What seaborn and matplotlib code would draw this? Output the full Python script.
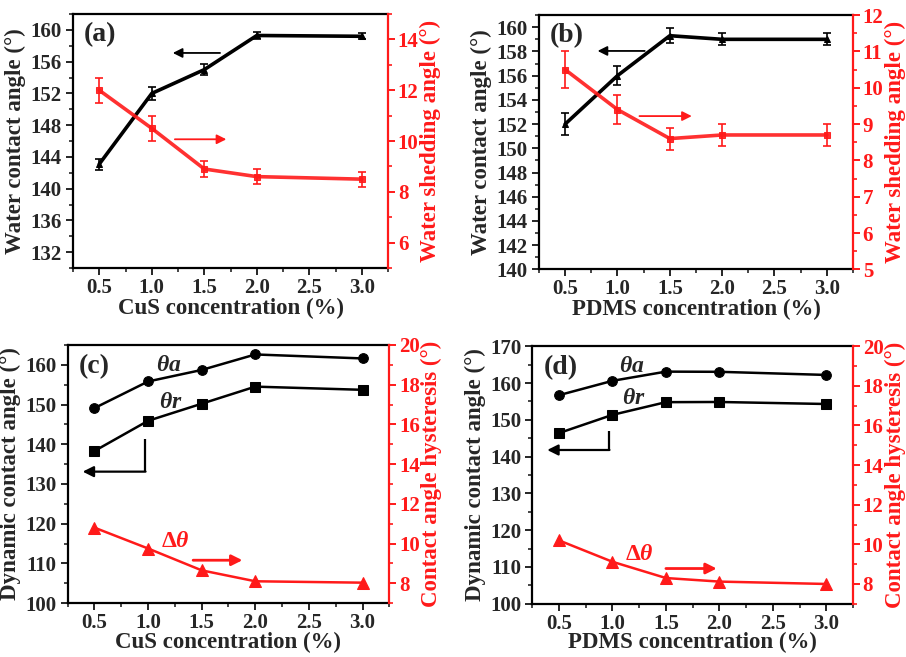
import numpy as np
import pandas as pd
import matplotlib
matplotlib.use("Agg")
import matplotlib.pyplot as plt
import seaborn as sns
from matplotlib.ticker import MultipleLocator

# ---------------- data ----------------
conc = [0.5, 1.0, 1.5, 2.0, 3.0]
xticks = [0.5, 1.0, 1.5, 2.0, 2.5, 3.0]

wca_cus = [143.1, 152.0, 155.0, 159.3, 159.2]
wca_cus_err = [0.7, 0.8, 0.7, 0.5, 0.4]
wsa_cus = [12.0, 10.5, 8.9, 8.6, 8.5]
wsa_cus_err = [0.5, 0.5, 0.3, 0.3, 0.3]

wca_pdms = [152.0, 156.0, 159.3, 159.0, 159.0]
wca_pdms_err = [0.9, 0.8, 0.6, 0.5, 0.5]
wsa_pdms = [10.5, 9.4, 8.6, 8.7, 8.7]
wsa_pdms_err = [0.5, 0.4, 0.3, 0.3, 0.3]

theta_a_cus = [149.1, 155.8, 158.7, 162.6, 161.6]
theta_r_cus = [138.3, 145.9, 150.2, 154.5, 153.7]
hyst_cus = [10.8, 9.75, 8.65, 8.1, 8.03]

theta_a_pdms = [156.7, 160.6, 163.1, 163.05, 162.2]
theta_r_pdms = [146.4, 151.35, 154.8, 154.85, 154.3]
hyst_pdms = [10.2, 9.12, 8.3, 8.12, 8.0]

# ---------------- style ----------------
sns.set_style("ticks")
plt.rcParams['font.family'] = ['Liberation Serif', 'DejaVu Serif']
plt.rcParams['font.weight'] = 'bold'
plt.rcParams['axes.labelweight'] = 'bold'
plt.rcParams['mathtext.fontset'] = 'custom'
plt.rcParams['mathtext.it'] = 'Liberation Serif:italic:bold'
plt.rcParams['mathtext.rm'] = 'Liberation Serif:bold'

RED = '#ff1a1a'
TICK_FS = 15
LAB_FS = 16.5

fig = plt.figure(figsize=(9.06, 6.57), dpi=100)

def style_axes(ax, ax2):
    for s in ['left', 'bottom', 'top']:
        ax.spines[s].set_linewidth(1.6)
        ax.spines[s].set_color('black')
    ax.spines['right'].set_visible(False)
    ax2.spines['right'].set_color(RED)
    ax2.spines['right'].set_linewidth(1.6)
    for s in ['left', 'bottom', 'top']:
        ax2.spines[s].set_visible(False)
    ax.tick_params(axis='both', which='major', direction='out', length=5, width=1.4,
                   labelsize=TICK_FS, top=False, right=False, pad=3)
    ax.tick_params(axis='x', which='major', pad=2)
    ax.tick_params(axis='both', which='minor', direction='out', length=3, width=1.2,
                   top=False, right=False)
    ax2.tick_params(axis='y', which='major', direction='out', length=5, width=1.4,
                    colors=RED, labelsize=TICK_FS, pad=2)
    ax2.tick_params(axis='y', which='minor', direction='out', length=3, width=1.2, colors=RED)
    ax.set_xlim(0.25, 3.25)
    ax.set_xticks(xticks)
    ax.set_xticklabels([f"{v:.1f}" for v in xticks])
    ax.xaxis.set_minor_locator(MultipleLocator(0.25))
    for lab in ax.get_xticklabels() + ax.get_yticklabels() + ax2.get_yticklabels():
        lab.set_fontweight('bold')

def draw_top(rect, x, wca, wca_err, wsa, wsa_err, xlabel, ylim, yticks, yminor,
             y2lim, y2ticks, y2minor, tag, barrow, rarrow):
    ax = fig.add_axes(rect)
    ax2 = ax.twinx()
    df = pd.DataFrame({'x': x, 'wca': wca, 'wsa': wsa})
    ax.errorbar(x, wca, yerr=wca_err, fmt='none', ecolor='black', elinewidth=1.2,
                capsize=3, capthick=1.2, zorder=3)
    sns.lineplot(data=df, x='x', y='wca', ax=ax, color='black', lw=2.6,
                 marker='^', markersize=5, markeredgecolor='black', zorder=4)
    ax2.errorbar(x, wsa, yerr=wsa_err, fmt='none', ecolor=RED, elinewidth=1.2,
                 capsize=3, capthick=1.2, zorder=3)
    sns.lineplot(data=df, x='x', y='wsa', ax=ax2, color=RED, lw=2.6, alpha=0.9,
                 marker='s', markersize=5, markeredgecolor=RED, zorder=4)
    ax.set_ylim(*ylim)
    ax.set_yticks(yticks)
    ax.yaxis.set_minor_locator(MultipleLocator(yminor))
    ax2.set_ylim(*y2lim)
    ax2.set_yticks(y2ticks)
    ax2.yaxis.set_minor_locator(MultipleLocator(y2minor))
    ax.set_xlabel(xlabel, fontsize=LAB_FS, fontweight='bold', labelpad=0)
    ax.set_ylabel('Water contact angle (°)', fontsize=LAB_FS, fontweight='bold', labelpad=3)
    ax2.set_ylabel('Water shedding angle (°)', fontsize=LAB_FS, fontweight='bold',
                   color=RED, labelpad=1)
    style_axes(ax, ax2)
    ax.text(0.035, 0.97, tag, transform=ax.transAxes, fontsize=20, fontweight='bold',
            va='top', ha='left')
    ax.annotate('', xy=(barrow[1], barrow[2]), xytext=(barrow[0], barrow[2]),
                xycoords='data',
                arrowprops=dict(arrowstyle='-|>', color='black', lw=1.3,
                                mutation_scale=14, shrinkA=0, shrinkB=0))
    ax2.annotate('', xy=(rarrow[1], rarrow[2]), xytext=(rarrow[0], rarrow[2]),
                 arrowprops=dict(arrowstyle='-|>', color=RED, lw=1.3,
                                 mutation_scale=14, shrinkA=0, shrinkB=0))
    return ax, ax2

def draw_bottom(rect, x, ta, tr, hy, xlabel, ylim, yticks, tag, elbow, rarrow,
                la, lr, ld):
    ax = fig.add_axes(rect)
    ax2 = ax.twinx()
    df = pd.DataFrame({'x': x, 'ta': ta, 'tr': tr, 'hy': hy})
    sns.lineplot(data=df, x='x', y='ta', ax=ax, color='black', lw=1.8,
                 marker='o', markersize=7, markeredgecolor='black')
    sns.lineplot(data=df, x='x', y='tr', ax=ax, color='black', lw=1.8,
                 marker='s', markersize=6.5, markeredgecolor='black')
    sns.lineplot(data=df, x='x', y='hy', ax=ax2, color=RED, lw=1.8,
                 marker='^', markersize=8, markeredgecolor=RED)
    ax.set_ylim(*ylim)
    ax.set_yticks(yticks)
    ax.yaxis.set_minor_locator(MultipleLocator(5))
    ax2.set_ylim(7, 20)
    ax2.set_yticks([8, 10, 12, 14, 16, 18, 20])
    ax2.yaxis.set_minor_locator(MultipleLocator(1))
    ax.set_xlabel(xlabel, fontsize=LAB_FS, fontweight='bold', labelpad=-1)
    ax.set_ylabel('Dynamic contact angle (°)', fontsize=LAB_FS, fontweight='bold', labelpad=3)
    ax2.set_ylabel('Contact angle hysteresis (°)', fontsize=LAB_FS, fontweight='bold',
                   color=RED, labelpad=1)
    style_axes(ax, ax2)
    ax.text(0.035, 0.965, tag, transform=ax.transAxes, fontsize=20, fontweight='bold',
            va='top', ha='left')
    # elbow arrow
    ex, ey0, ey1, ex1 = elbow
    ax.plot([ex, ex], [ey0, ey1], color='black', lw=1.6, solid_capstyle='butt')
    ax.annotate('', xy=(ex1, ey1), xytext=(ex + 0.006, ey1),
                arrowprops=dict(arrowstyle='-|>', color='black', lw=1.6,
                                mutation_scale=16, shrinkA=0, shrinkB=0))
    ax2.annotate('', xy=(rarrow[1], rarrow[2]), xytext=(rarrow[0], rarrow[2]),
                 arrowprops=dict(arrowstyle='-|>', color=RED, lw=2.0,
                                 mutation_scale=16, shrinkA=0, shrinkB=0))
    ax.text(la[0], la[1], r'$\theta a$', fontsize=17, ha='center', va='center')
    ax.text(lr[0], lr[1], r'$\theta r$', fontsize=17, ha='center', va='center')
    ax.text(ld[0], ld[1], r'$\mathit{\Delta\theta}$', fontsize=17, ha='center', va='center',
            color=RED)
    return ax, ax2

draw_top([0.0806, 0.592, 0.3477, 0.3866], conc, wca_cus, wca_cus_err, wsa_cus, wsa_cus_err,
         'CuS concentration (%)', (130, 162), [132, 136, 140, 144, 148, 152, 156, 160], 2,
         (5, 15), [6, 8, 10, 12, 14], 1, '(a)',
         (1.65, 1.2, 157.1), (1.22, 1.71, 10.07))

draw_top([0.5949, 0.590, 0.3466, 0.387], conc, wca_pdms, wca_pdms_err, wsa_pdms, wsa_pdms_err,
         'PDMS concentration (%)', (140, 161), list(range(140, 161, 2)), 1,
         (5, 12), list(range(5, 13)), 0.5, '(b)',
         (1.26, 0.81, 158.04), (1.21, 1.71, 9.22))

draw_bottom([0.0747, 0.082, 0.355, 0.393], conc, theta_a_cus, theta_r_cus, hyst_cus,
            'CuS concentration (%)', (100, 165), list(range(100, 161, 10)), '(c)',
            (0.97, 141.3, 133.1, 0.39), (1.42, 1.88, 9.16),
            (1.19, 159.8), (1.21, 150.6), (1.25, 115.6))

draw_bottom([0.5875, 0.081, 0.354, 0.392], conc, theta_a_pdms, theta_r_pdms, hyst_pdms,
            'PDMS concentration (%)', (100, 170), list(range(100, 171, 10)), '(d)',
            (0.966, 147.0, 141.8, 0.39), (1.5, 1.975, 8.78),
            (1.18, 164.4), (1.2, 155.8), (1.25, 113.3))

fig.savefig('out.png', dpi=100)
